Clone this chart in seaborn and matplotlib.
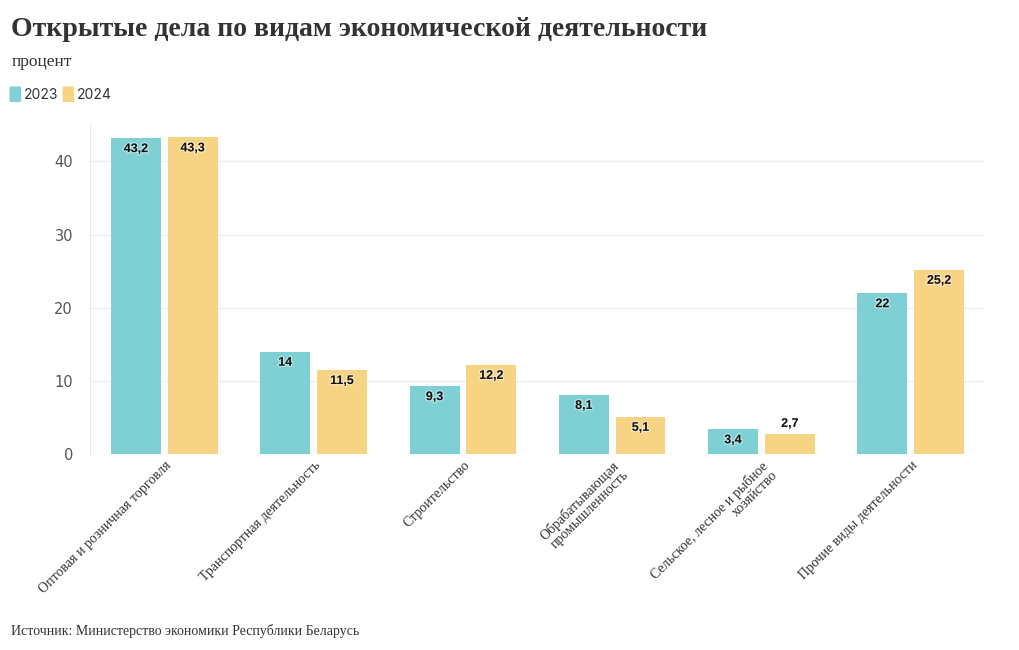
import matplotlib
matplotlib.use("Agg")
import matplotlib.pyplot as plt
import matplotlib.patheffects as pe
import seaborn as sns
import pandas as pd

categories = ["Оптовая и розничная торговля", "Транспортная деятельность", "Строительство",
              "Обрабатывающая\nпромышленность", "Сельское, лесное и рыбное\nхозяйство",
              "Прочие виды деятельности"]
v2023 = [43.2, 14, 9.3, 8.1, 3.4, 22]
v2024 = [43.3, 11.5, 12.2, 5.1, 2.7, 25.2]
years = ["2023", "2024"]
colors = ["#7fd0d4", "#f7d384"]

df = pd.DataFrame({"cat": categories * 2, "val": v2023 + v2024,
                   "year": [years[0]] * 6 + [years[1]] * 6})

fig = plt.figure(figsize=(10.2, 6.5), dpi=100)
ax = fig.add_axes([0.088, 0.3015, 0.878, 0.5065])
sns.barplot(data=df, x="cat", y="val", hue="year", palette=colors, ax=ax,
            width=0.76, gap=0.12, legend=False, saturation=1)
ax.set_ylim(0, 45)
ax.set_xlim(-0.5, 5.5)
ax.set_yticks([0, 10, 20, 30, 40])
ax.grid(axis="y", color="#ebebeb", lw=0.8)
ax.set_axisbelow(True)
for s in ["top", "right", "bottom"]:
    ax.spines[s].set_visible(False)
ax.spines["left"].set_color("#e6e6e6")
ax.tick_params(axis="y", length=0, labelsize=10.5, colors="#555555", pad=12)
ax.tick_params(axis="x", length=0)
ax.set_xlabel(""); ax.set_ylabel("")
ax.set_xticks(range(6))
ax.set_xticklabels(categories, rotation=45, ha="right", rotation_mode="anchor",
                   family="Liberation Serif", fontsize=10, color="#333333", linespacing=1.0)

for cont in ax.containers:
    for bar in cont:
        h = bar.get_height()
        txt = f"{h:g}".replace(".", ",")
        x = bar.get_x() + bar.get_width() / 2
        if h < 3:
            y, va = h + 0.6, "bottom"
        else:
            y, va = h - 0.7, "top"
        ax.text(x, y, txt, ha="center", va=va, fontsize=9, fontweight="bold",
                family="Liberation Sans", color="#111111",
                path_effects=[pe.withStroke(linewidth=2, foreground="white", alpha=0.4)])

fig.text(0.011, 0.955, "Открытые дела по видам экономической деятельности", fontsize=20,
         fontweight="bold", family="Liberation Serif", color="#333333", va="center")
fig.text(0.011, 0.905, "процент", fontsize=12.5, family="Liberation Serif", color="#333333", va="center")
for i, (yr, c) in enumerate(zip(years, colors)):
    x0 = 0.011 + i * 0.052
    fig.patches.append(matplotlib.patches.FancyBboxPatch((x0, 0.845), 0.008, 0.02, boxstyle="round,pad=0.001",
                       transform=fig.transFigure, color=c))
    fig.text(x0 + 0.012, 0.854, yr, fontsize=10, color="#333333", va="center", family="Inter")
fig.text(0.011, 0.029, "Источник: Министерство экономики Республики Беларусь", fontsize=10,
         family="Liberation Serif", color="#333333", va="center")
fig.savefig("out.png", dpi=100)
